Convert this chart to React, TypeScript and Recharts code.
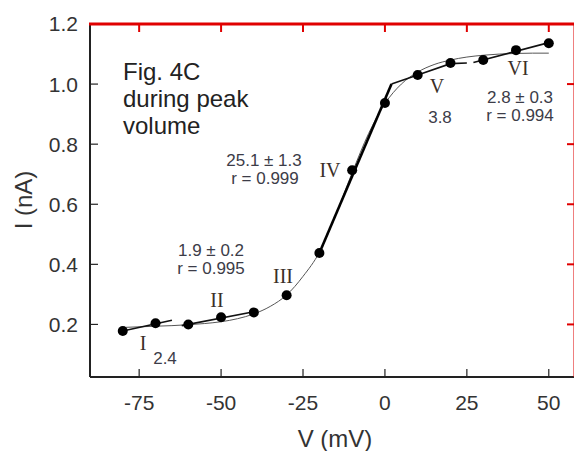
import { ComposedChart, Line, XAxis, YAxis } from 'recharts';

// measured points, I (nA) vs V (mV)
const voltages = [-80, -70, -60, -50, -40, -30, -20, -10, 0, 10, 20, 30, 40, 50];
const currents = [0.178, 0.204, 0.2, 0.224, 0.24, 0.297, 0.438, 0.713, 0.937, 1.03, 1.07, 1.08, 1.113, 1.136];

// thin sigmoid fit, every 5 mV
const fitV = [-80, -75, -70, -65, -60, -55, -50, -45, -40, -35, -30, -25, -20, -15, -10, -5, 0, 5, 10, 15, 20, 25, 30, 35, 40, 45, 50];
const fitI = [0.19, 0.192, 0.194, 0.196, 0.199, 0.203, 0.209, 0.219, 0.235, 0.26, 0.298, 0.36, 0.44, 0.565, 0.705, 0.835, 0.935, 1.0, 1.04, 1.065, 1.08, 1.09, 1.096, 1.1, 1.102, 1.103, 1.103];

// regression segments per region
const segI = [[-80, 0.178], [-65, 0.214]];
const segII = [[-62, 0.196], [-40, 0.242]];
const segIV = [[-20, 0.438], [2, 1.0]];
const segV = [[2, 1.0], [10, 1.03], [20, 1.068], [25, 1.07]];
const segVI = [[27, 1.072], [50, 1.138]];

const xTicks = [-75, -50, -25, 0, 25, 50];
const yTicks = [0.2, 0.4, 0.6, 0.8, 1.0, 1.2];
const X_MIN = -90;
const X_MAX = 58;
const Y_MIN = 0.025;
const Y_MAX = 1.2;

const points = voltages.map((v, i) => ({ v, i: currents[i] }));
const fit = fitV.map((v, k) => ({ v, i: fitI[k] }));
const seg = (s: number[][]) => s.map(([v, i]) => ({ v, i }));

const AXIS = '#222';
const TXT = '#333';
const NOTE = '#3c3c48';
const ROMAN = '#3b2f28';
const SANS = 'Liberation Sans, Arial, sans-serif';

// chart box (same numbers as the margins / axis sizes below)
const CHART_W = 580;
const CHART_H = 451;
const M_TOP = 24;
const M_RIGHT = 5;
const Y_AXIS_W = 90;
const X_AXIS_H = 74;
const PLOT = { left: Y_AXIS_W, top: M_TOP, right: CHART_W - M_RIGHT, bottom: CHART_H - X_AXIS_H };
const px = (v: number) => PLOT.left + ((v - X_MIN) / (X_MAX - X_MIN)) * (PLOT.right - PLOT.left);
const py = (i: number) => PLOT.bottom - ((i - Y_MIN) / (Y_MAX - Y_MIN)) * (PLOT.bottom - PLOT.top);
const TICK = 8;

function Note({ x, y, children }: { x: number; y: number; children: string }) {
  return (
    <text x={x} y={y + 6} textAnchor="middle" fontSize={17} fill={NOTE} fontFamily={SANS}>
      {children}
    </text>
  );
}

function Roman({ x, y, children }: { x: number; y: number; children: string }) {
  return (
    <text x={x} y={y + 7} textAnchor="middle" fontSize={20} fill={ROMAN} fontFamily="Liberation Serif, Times New Roman, serif">
      {children}
    </text>
  );
}

// top/right frame and annotations, on an svg laid over the chart
function Overlay() {
  return (
    <svg width={574} height={451} style={{ position: 'absolute', left: 0, top: 0, pointerEvents: 'none' }}>
      <path
        d={`M${PLOT.left - 1},${PLOT.top}H${PLOT.right + 1}M${PLOT.right},${PLOT.top}V${PLOT.bottom}`}
        stroke="#e00000"
        strokeWidth={3}
        fill="none"
      />
      {xTicks.map((t) => (
        <path key={'tx' + t} d={`M${px(t)},${PLOT.top}V${PLOT.top + TICK}`} stroke="#e00000" strokeWidth={2} fill="none" />
      ))}
      {yTicks.map((t) => (
        <path key={'ty' + t} d={`M${PLOT.right - TICK},${py(t)}H${PLOT.right}`} stroke="#e00000" strokeWidth={2} fill="none" />
      ))}

      <text x={123} y={80} fontSize={24} fill="#222" fontFamily={SANS}>Fig. 4C</text>
      <text x={123} y={107} fontSize={24} fill="#222" fontFamily={SANS}>during peak</text>
      <text x={123} y={134} fontSize={24} fill="#222" fontFamily={SANS}>volume</text>

      <Note x={264} y={160}>25.1 ± 1.3</Note>
      <Note x={265} y={178}>r = 0.999</Note>
      <Note x={211} y={250}>1.9 ± 0.2</Note>
      <Note x={211} y={268}>r = 0.995</Note>
      <Note x={520} y={97}>2.8 ± 0.3</Note>
      <Note x={520} y={115}>r = 0.994</Note>
      <Note x={440} y={117}>3.8</Note>
      <Note x={165} y={358}>2.4</Note>

      <Roman x={143} y={343}>I</Roman>
      <Roman x={217} y={300}>II</Roman>
      <Roman x={283} y={276}>III</Roman>
      <Roman x={330} y={170}>IV</Roman>
      <Roman x={437} y={86}>V</Roman>
      <Roman x={518} y={68}>VI</Roman>

      <text x={335} y={447} textAnchor="middle" fontSize={24} fill={TXT} fontFamily={SANS}>V (mV)</text>
      <text
        x={23}
        y={200}
        transform="rotate(-90 23 200)"
        textAnchor="middle"
        dominantBaseline="central"
        fontSize={24}
        fill={TXT}
        fontFamily={SANS}
      >
        I (nA)
      </text>
    </svg>
  );
}

export default function App() {
  return (
    <div style={{ position: 'absolute', left: 0, top: 0, width: 574, height: 451, overflow: 'hidden', background: '#fff' }}>
      <ComposedChart width={CHART_W} height={CHART_H} margin={{ top: M_TOP, right: M_RIGHT, bottom: 0, left: 0 }}>
        <XAxis
          type="number"
          dataKey="v"
          domain={[X_MIN, X_MAX]}
          ticks={xTicks}
          allowDataOverflow
          height={X_AXIS_H}
          tickSize={-TICK}
          tickMargin={26}
          axisLine={{ stroke: AXIS, strokeWidth: 2 }}
          tickLine={{ stroke: AXIS, strokeWidth: 1.2 }}
          tick={{ fill: TXT, fontSize: 21, fontFamily: SANS }}
        />
        <YAxis
          type="number"
          domain={[Y_MIN, Y_MAX]}
          ticks={yTicks}
          allowDataOverflow
          width={Y_AXIS_W}
          tickSize={-TICK}
          tickMargin={20}
          tickFormatter={(t: number) => t.toFixed(1)}
          axisLine={{ stroke: AXIS, strokeWidth: 2 }}
          tickLine={{ stroke: AXIS, strokeWidth: 1.2 }}
          tick={{ fill: TXT, fontSize: 21, fontFamily: SANS }}
        />

        <Line data={fit} dataKey="i" type="monotone" stroke="#555" strokeWidth={1} dot={false} isAnimationActive={false} />
        <Line data={seg(segI)} dataKey="i" type="linear" stroke="#111" strokeWidth={1.6} dot={false} isAnimationActive={false} />
        <Line data={seg(segII)} dataKey="i" type="linear" stroke="#111" strokeWidth={1.6} dot={false} isAnimationActive={false} />
        <Line data={seg(segIV)} dataKey="i" type="linear" stroke="#000" strokeWidth={2.6} dot={false} isAnimationActive={false} />
        <Line data={seg(segV)} dataKey="i" type="linear" stroke="#111" strokeWidth={1.6} dot={false} isAnimationActive={false} />
        <Line data={seg(segVI)} dataKey="i" type="linear" stroke="#111" strokeWidth={1.6} dot={false} isAnimationActive={false} />
        <Line
          data={points}
          dataKey="i"
          stroke="none"
          dot={{ r: 5, fill: '#000', stroke: '#000', strokeWidth: 0 }}
          isAnimationActive={false}
        />
      </ComposedChart>
      <Overlay />
    </div>
  );
}
